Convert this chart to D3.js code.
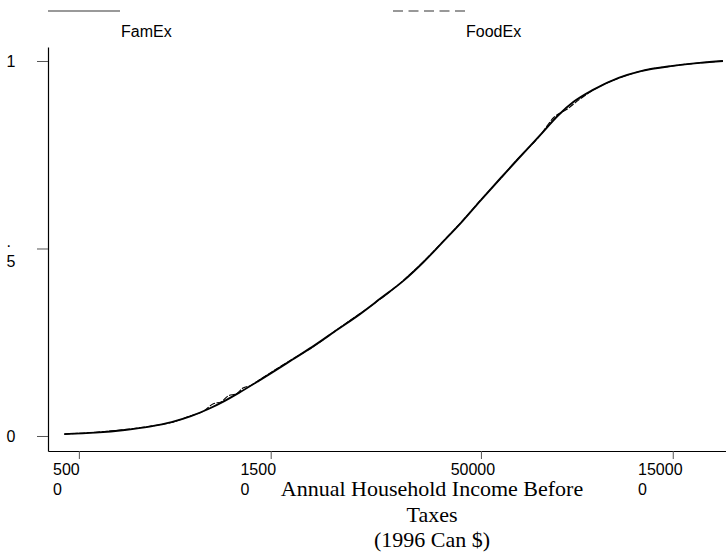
<!DOCTYPE html>
<html>
<head>
<meta charset="utf-8">
<script src="https://cdn.jsdelivr.net/npm/d3@7"></script>
<style>
  body { margin: 0; background: #fff; }
  svg { display: block; }
</style>
</head>
<body>
<div id="chart"></div>
<script>
// cumulative share of households by income
let famIncome = [4600, 5500, 6500, 7500, 8500, 9500, 10500, 11500, 12500, 14000, 15000, 17000, 19000, 22000, 25000, 28000, 32000, 36000, 40000, 45000, 50000, 56000, 62000, 70000, 78000, 85000, 95000, 110000, 125000, 150000, 175000, 200000];
let famShare = [0.005, 0.009, 0.016, 0.025, 0.037, 0.053, 0.072, 0.093, 0.115, 0.147, 0.167, 0.204, 0.237, 0.284, 0.325, 0.365, 0.413, 0.464, 0.515, 0.573, 0.629, 0.688, 0.740, 0.801, 0.856, 0.891, 0.923, 0.955, 0.973, 0.987, 0.995, 1.0];

let foodIncome = [4600, 5500, 6500, 7500, 8500, 9500, 10200, 10800, 11300, 11800, 12300, 12800, 13400, 14000, 15000, 17000, 19000, 22000, 25000, 28000, 32000, 36000, 40000, 45000, 50000, 56000, 62000, 70000, 76000, 82000, 88000, 95000, 110000, 125000, 150000, 175000, 200000];
let foodShare = [0.005, 0.010, 0.017, 0.026, 0.036, 0.054, 0.066, 0.086, 0.091, 0.108, 0.112, 0.128, 0.135, 0.148, 0.169, 0.205, 0.236, 0.285, 0.326, 0.364, 0.414, 0.465, 0.516, 0.574, 0.630, 0.687, 0.741, 0.800, 0.850, 0.872, 0.898, 0.922, 0.954, 0.973, 0.987, 0.995, 1.0];

let seriesNames = ["FamEx", "FoodEx"];

// tick values and how their labels wrap in the original
let xTicks = [5000, 15000, 50000, 150000];
let xTickLines = [["500", "0"], ["1500", "0"], ["50000"], ["15000", "0"]];
let yTicks = [0, 0.5, 1];
let yTickLines = [["0"], [".", "5"], ["1"]];

let titleLines = ["Annual Household Income Before", "Taxes", "(1996 Can $)"];

let width = 726;
let height = 554;
let sans = "'Liberation Sans', Arial, sans-serif";
let serif = "'Liberation Serif', 'Times New Roman', serif";

let svg = d3.select("#chart")
    .append("svg")
    .attr("width", width)
    .attr("height", height);

// the plot runs past the right edge of the window
let plotLeft = 48, plotRight = 814, plotTop = 47, plotBottom = 451;

let x = d3.scaleLog()
    .domain([4190, 336800])
    .range([plotLeft, plotRight]);

let y = d3.scaleLinear()
    .domain([-0.04, 1.0373])
    .range([plotBottom, plotTop]);

// axes
let xAxis = svg.append("g")
    .attr("transform", "translate(0," + plotBottom + ")")
    .call(d3.axisBottom(x).tickValues(xTicks).tickSize(8).tickSizeOuter(0).tickFormat(""));

let yAxis = svg.append("g")
    .attr("transform", "translate(" + plotLeft + ",0)")
    .call(d3.axisLeft(y).tickValues(yTicks).tickSize(11).tickSizeOuter(0).tickFormat(""));

[xAxis, yAxis].forEach(g => {
    g.select(".domain").attr("stroke", "#000").attr("stroke-width", 1.2);
    g.selectAll(".tick line").attr("stroke", "#555").attr("stroke-width", 1);
});

// x tick labels: whole label centred a bit left of the tick, then wrapped
xTicks.forEach((v, i) => {
    let t = svg.append("text")
        .attr("font-family", sans)
        .attr("font-size", 16)
        .attr("fill", "#000");
    t.text(xTickLines[i].join(""));
    let w = t.node().getComputedTextLength();
    t.text(null);
    xTickLines[i].forEach((line, j) => {
        t.append("tspan")
            .attr("x", x(v) - 8 - w / 2)
            .attr("y", 474.5 + j * 20)
            .text(line);
    });
});

// y tick labels
yTicks.forEach((v, i) => {
    let lines = yTickLines[i];
    let t = svg.append("text")
        .attr("font-family", sans)
        .attr("font-size", 16)
        .attr("fill", "#000");
    lines.forEach((line, j) => {
        t.append("tspan")
            .attr("x", 6.5)
            .attr("y", y(v) + 6 + j * 20 - (lines.length - 1) * 7)
            .text(line);
    });
});

// axis title
let title = svg.append("text")
    .attr("font-family", serif)
    .attr("font-size", 22)
    .attr("fill", "#000")
    .attr("text-anchor", "middle");
titleLines.forEach((line, j) => {
    title.append("tspan")
        .attr("x", (plotLeft + plotRight) / 2 + 1)
        .attr("y", 496 + j * 25.5)
        .text(line);
});

// curves
let line = d3.line()
    .x(d => x(d[0]))
    .y(d => y(d[1]))
    .curve(d3.curveMonotoneX);

let famData = d3.zip(famIncome, famShare);
let foodData = d3.zip(foodIncome, foodShare);

svg.append("path")
    .datum(foodData)
    .attr("d", line)
    .attr("fill", "none")
    .attr("stroke", "#000")
    .attr("stroke-width", 1.1)
    .attr("stroke-dasharray", "6,1.5");

svg.append("path")
    .datum(famData)
    .attr("d", line)
    .attr("fill", "none")
    .attr("stroke", "#000")
    .attr("stroke-width", 1.9);

// legend across the top
let legendDash = [null, "10,5.5"];
seriesNames.forEach((name, i) => {
    let lx = 48 + i * 345;
    svg.append("line")
        .attr("x1", lx).attr("x2", lx + 72)
        .attr("y1", 11).attr("y2", 11)
        .attr("stroke", "#777")
        .attr("stroke-width", 1.5)
        .attr("stroke-dasharray", legendDash[i]);
    svg.append("text")
        .attr("x", lx + 73)
        .attr("y", 36.5)
        .attr("font-family", sans)
        .attr("font-size", 16)
        .attr("fill", "#000")
        .text(name);
});
</script>
</body>
</html>
